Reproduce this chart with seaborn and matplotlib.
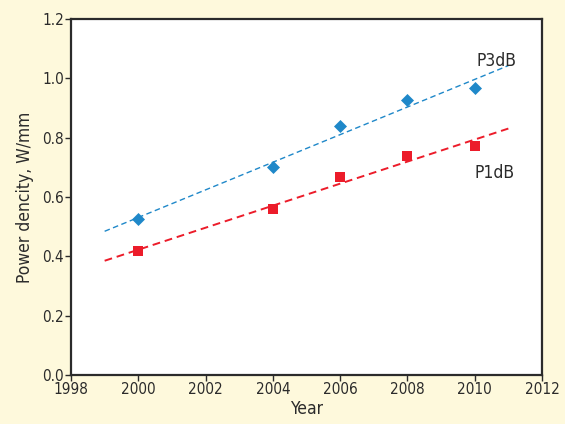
import numpy as np
import pandas as pd
import matplotlib
matplotlib.use("Agg")
import matplotlib.pyplot as plt
import seaborn as sns

years = [2000, 2004, 2006, 2008, 2010]
p3db = [0.525, 0.700, 0.839, 0.927, 0.967]
p1db = [0.418, 0.558, 0.666, 0.737, 0.772]
fit_range = [1999, 2011]
x_ticks = [1998, 2000, 2002, 2004, 2006, 2008, 2010, 2012]
y_ticks = [0.0, 0.2, 0.4, 0.6, 0.8, 1.0, 1.2]

sns.set_theme(style="ticks")
plt.rcParams["font.family"] = ["DejaVu Sans"]
plt.rcParams["font.stretch"] = "condensed"

bg = "#FEF9DC"
blue = "#1F88C9"
red = "#EC1C2A"
ink = "#2B2B2B"

fig = plt.figure(figsize=(5.65, 4.24), dpi=100, facecolor=bg)
ax = fig.add_axes([71 / 565, 1 - 375 / 424, 471 / 565, 356 / 424])
ax.set_facecolor("white")

df = pd.DataFrame({"Year": years, "P3dB": p3db, "P1dB": p1db})

# least-squares trend lines over 1999-2011
xs = np.array(fit_range, dtype=float)
for col, color, lw in [("P3dB", blue, 1.0), ("P1dB", red, 1.4)]:
    k, b = np.polyfit(df["Year"], df[col], 1)
    trend = pd.DataFrame({"Year": xs, "v": k * xs + b})
    sns.lineplot(data=trend, x="Year", y="v", ax=ax, color=color,
                 linewidth=lw, linestyle=(0, (4, 2.5)))

sns.scatterplot(data=df, x="Year", y="P3dB", ax=ax, marker="D", s=44,
                color=blue, edgecolor=blue, linewidth=0, zorder=3)
sns.scatterplot(data=df, x="Year", y="P1dB", ax=ax, marker="s", s=44,
                color=red, edgecolor=red, linewidth=0, zorder=3)

ax.text(2010.05, 1.058, "P3dB", fontsize=12.5, color=ink, ha="left", va="center")
ax.text(2009.98, 0.681, "P1dB", fontsize=12.5, color=ink, ha="left", va="center")

ax.set_xlim(1998, 2012)
ax.set_ylim(0, 1.2)
ax.set_xticks(x_ticks)
ax.set_yticks(y_ticks)
ax.set_xticklabels([str(t) for t in x_ticks])
ax.set_yticklabels([f"{t:.1f}" for t in y_ticks])
ax.tick_params(axis="both", labelsize=11, colors=ink, length=4, width=1,
               direction="out", pad=1)
ax.set_xlabel("Year", fontsize=12.5, color=ink, labelpad=2)
ax.set_ylabel("Power dencity, W/mm", fontsize=12.5, color=ink, labelpad=6)
for side in ["left", "bottom", "top", "right"]:
    ax.spines[side].set_visible(True)
    ax.spines[side].set_color(ink)
    ax.spines[side].set_linewidth(1.6)

fig.savefig("out.png", dpi=100, facecolor=bg)
